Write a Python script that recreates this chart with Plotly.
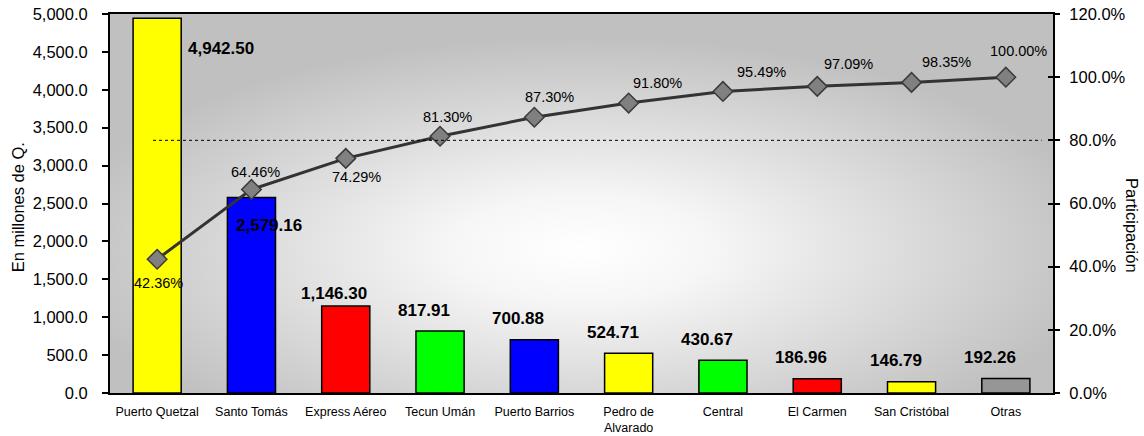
import base64
import plotly.graph_objects as go

# Data
categories = ["Puerto Quetzal", "Santo Tomás", "Express Aéreo", "Tecun Umán",
              "Puerto Barrios", "Pedro de<br>Alvarado", "Central", "El Carmen",
              "San Cristóbal", "Otras"]
values = [4942.50, 2579.16, 1146.30, 817.91, 700.88, 524.71, 430.67, 186.96, 146.79, 192.26]
cumulative_pct = [42.36, 64.46, 74.29, 81.30, 87.30, 91.80, 95.49, 97.09, 98.35, 100.00]
left_ticks = [0, 500, 1000, 1500, 2000, 2500, 3000, 3500, 4000, 4500, 5000]
right_ticks = [0, 20, 40, 60, 80, 100, 120]
threshold_pct = 80

# Styling
bar_colors = ["#FFFF00", "#0000FF", "#FF0000", "#00FF00", "#0000FF",
              "#FFFF00", "#00FF00", "#FF0000", "#FFFF00", "#969696"]
FONT = "Arial, 'Liberation Sans', sans-serif"

# label offsets in pixels (x, y) relative to the bar top / marker
bar_label_shift = [(64, -30), (18, -28), (-12, 13)] + [(-16, 21)] * 7
pct_label_shift = [(1, -24), (4, 17), (11, -19), (7, 19), (15, 20),
                   (29, 20), (39, 19), (31, 22), (35, 20), (13, 26)]

# radial gradient for the plotting area
svg = (
    '<svg xmlns="http://www.w3.org/2000/svg" width="943" height="379" '
    'viewBox="0 0 943 379" preserveAspectRatio="none">'
    '<defs><radialGradient id="g" cx="0.5" cy="0.62" r="0.56" fx="0.5" fy="0.62">'
    '<stop offset="0" stop-color="#ffffff"/>'
    '<stop offset="0.25" stop-color="#f6f6f6"/>'
    '<stop offset="1" stop-color="#c0c0c0"/>'
    '</radialGradient></defs>'
    '<rect x="0" y="0" width="943" height="379" fill="url(#g)"/></svg>'
)
bg_uri = "data:image/svg+xml;base64," + base64.b64encode(svg.encode()).decode()

x_idx = list(range(len(categories)))

fig = go.Figure()

fig.add_trace(go.Bar(
    x=x_idx, y=values, width=0.51,
    marker=dict(color=bar_colors, line=dict(color="#000000", width=1.5)),
    hoverinfo="skip", showlegend=False,
))

fig.add_trace(go.Scatter(
    x=x_idx, y=cumulative_pct, yaxis="y2", mode="lines+markers",
    line=dict(color="#333333", width=3),
    marker=dict(symbol="diamond", size=15, color="#808080",
                line=dict(color="#3a3a3a", width=1.5)),
    hoverinfo="skip", showlegend=False,
))

# overlay axis that provides the inner half of the right-side tick marks
fig.add_trace(go.Scatter(x=[], y=[], yaxis="y3", showlegend=False))

annotations = []
for i, v in enumerate(values):
    dx, dy = bar_label_shift[i]
    annotations.append(dict(
        x=i, y=v, xref="x", yref="y", text=f"<b>{v:,.2f}</b>",
        showarrow=False, xshift=dx, yshift=dy,
        font=dict(family=FONT, size=17, color="#000000"),
    ))
for i, p in enumerate(cumulative_pct):
    dx, dy = pct_label_shift[i]
    annotations.append(dict(
        x=i, y=p, xref="x", yref="y2", text=f"{p:.2f}%",
        showarrow=False, xshift=dx, yshift=dy,
        font=dict(family=FONT, size=14.5, color="#000000"),
    ))
annotations.append(dict(
    x=0, y=0.49, xref="paper", yref="paper", text="En millones de Q.",
    textangle=-90, showarrow=False, xshift=-92,
    xanchor="center", yanchor="middle",
    font=dict(family=FONT, size=16.5, color="#000000"),
))
annotations.append(dict(
    x=1, y=0.443, xref="paper", yref="paper", text="Participación",
    textangle=90, showarrow=False, xshift=79,
    xanchor="center", yanchor="middle",
    font=dict(family=FONT, size=16.5, color="#000000"),
))

fig.update_layout(
    width=1144, height=436,
    margin=dict(l=110, r=91, t=14, b=43, pad=0, autoexpand=False),
    paper_bgcolor="#ffffff",
    plot_bgcolor="rgba(0,0,0,0)",
    font=dict(family=FONT, color="#000000"),
    bargap=0.49,
    xaxis=dict(
        automargin=False,
        range=[-0.5, len(categories) - 0.5],
        tickmode="array", tickvals=x_idx, ticktext=categories,
        tickfont=dict(family=FONT, size=12.5, color="#000000"),
        ticklabelstandoff=6,
        showline=True, linecolor="#000000", linewidth=2, mirror=True,
        ticks="", showgrid=False, zeroline=False,
    ),
    yaxis=dict(
        automargin=False,
        range=[0, 5000], tickmode="array", tickvals=left_ticks,
        ticktext=[f"{t:,.1f}" for t in left_ticks],
        tickfont=dict(family=FONT, size=16.5, color="#000000"),
        ticks="outside", ticklen=6, tickwidth=1.5, tickcolor="#000000",
        ticklabelstandoff=11,
        showline=True, linecolor="#000000", linewidth=2,
        showgrid=False, zeroline=False,
    ),
    yaxis2=dict(
        automargin=False,
        range=[0, 120], overlaying="y", side="right", anchor="x",
        tickmode="array", tickvals=right_ticks,
        ticktext=[f"{t:.1f}%" for t in right_ticks],
        tickfont=dict(family=FONT, size=16.5, color="#000000"),
        ticks="outside", ticklen=5, tickwidth=1.5, tickcolor="#000000",
        ticklabelstandoff=6,
        showline=True, linecolor="#000000", linewidth=2,
        showgrid=False, zeroline=False,
    ),
    yaxis3=dict(
        automargin=False,
        range=[0, 120], overlaying="y", side="right", anchor="x",
        tickmode="array", tickvals=right_ticks,
        ticks="inside", ticklen=5, tickwidth=1.5, tickcolor="#000000",
        showticklabels=False, showline=False, showgrid=False, zeroline=False,
    ),
    shapes=[dict(
        type="line", xref="x", yref="y2",
        x0=-0.044, x1=9.38, y0=threshold_pct, y1=threshold_pct,
        line=dict(color="#000000", width=1, dash="dot"), layer="above",
    )],
    images=[dict(
        source=bg_uri, xref="paper", yref="paper", x=0, y=1,
        sizex=1, sizey=1, sizing="stretch", xanchor="left", yanchor="top",
        layer="below",
    )],
    annotations=annotations,
)

fig.write_html("out.html")
